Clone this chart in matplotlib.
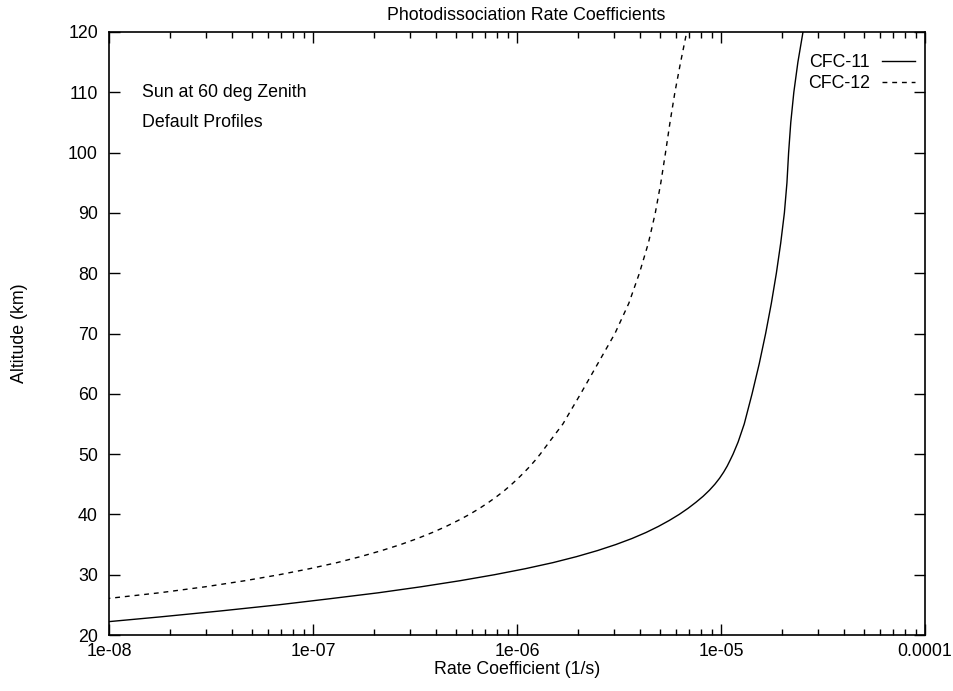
import matplotlib
matplotlib.use("Agg")
import matplotlib.pyplot as plt
from matplotlib.ticker import FixedLocator, FixedFormatter, LogLocator, NullFormatter

plt.rcParams['font.family'] = ['Liberation Sans', 'DejaVu Sans']

altitude = [20, 21, 22, 23, 24, 25, 26, 27, 28, 29, 30, 31, 32, 33, 34, 35, 36, 37, 38, 39,
            40, 41, 42, 43, 44, 45, 46, 47, 48, 49, 50, 52, 55, 60, 65, 70, 75, 80, 85,
            90, 95, 100, 105, 110, 115, 120]
cfc11 = [1.74e-9, 3.9e-9, 8.51e-9, 1.78e-8, 3.55e-8, 6.76e-8, 1.20e-7, 2.09e-7, 3.39e-7,
         5.25e-7, 7.76e-7, 1.10e-6, 1.50e-6, 1.96e-6, 2.48e-6, 3.05e-6, 3.66e-6, 4.29e-6,
         4.93e-6, 5.58e-6, 6.24e-6, 6.89e-6, 7.53e-6, 8.17e-6, 8.77e-6, 9.33e-6, 9.84e-6,
         1.030e-5, 1.072e-5, 1.109e-5, 1.146e-5, 1.213e-5, 1.300e-5, 1.420e-5, 1.540e-5,
         1.655e-5, 1.765e-5, 1.868e-5, 1.962e-5, 2.045e-5, 2.105e-5, 2.145e-5, 2.198e-5,
         2.275e-5, 2.382e-5, 2.523e-5]
cfc12 = [5.0e-11, 1.35e-10, 3.55e-10, 8.9e-10, 2.09e-9, 4.68e-9, 9.55e-9, 1.77e-8, 2.97e-8,
         4.63e-8, 6.84e-8, 9.64e-8, 1.31e-7, 1.71e-7, 2.17e-7, 2.69e-7, 3.25e-7, 3.85e-7,
         4.49e-7, 5.15e-7, 5.85e-7, 6.55e-7, 7.26e-7, 7.98e-7, 8.71e-7, 9.42e-7, 1.014e-6,
         1.086e-6, 1.159e-6, 1.230e-6, 1.300e-6, 1.439e-6, 1.679e-6, 2.051e-6, 2.489e-6,
         3.020e-6, 3.532e-6, 3.981e-6, 4.406e-6, 4.764e-6, 5.070e-6, 5.346e-6, 5.623e-6,
         5.943e-6, 6.339e-6, 6.792e-6]

x_ticks = [1e-8, 1e-7, 1e-6, 1e-5, 1e-4]
x_ticklabels = ["1e-08", "1e-07", "1e-06", "1e-05", "0.0001"]
y_ticks = [20, 30, 40, 50, 60, 70, 80, 90, 100, 110, 120]

FS = 12.8

fig = plt.figure(figsize=(9.54, 6.91), dpi=100)
ax = fig.add_axes([109/954, 1-635/691, (925-109)/954, (635-32)/691])

ax.plot(cfc11, altitude, color='black', lw=1.0, label='CFC-11')
ax.plot(cfc12, altitude, color='black', lw=1.0, linestyle=(0, (3.5, 3.5)), label='CFC-12')

ax.set_xscale('log')
ax.set_xlim(1e-8, 1e-4)
ax.set_ylim(20, 120)
ax.xaxis.set_major_locator(FixedLocator(x_ticks))
ax.xaxis.set_major_formatter(FixedFormatter(x_ticklabels))
ax.xaxis.set_minor_locator(LogLocator(base=10, subs=range(2, 10)))
ax.xaxis.set_minor_formatter(NullFormatter())
ax.yaxis.set_major_locator(FixedLocator(y_ticks))

ax.tick_params(which='both', direction='in', top=True, right=True, labelsize=FS, width=1.0)
ax.tick_params(axis='x', pad=6)
ax.tick_params(axis='y', pad=8)
ax.tick_params(which='major', length=8)
ax.tick_params(which='minor', length=4)
for s in ax.spines.values():
    s.set_linewidth(1.2)

ax.set_xlabel('Rate Coefficient (1/s)', fontsize=FS, va='center')
ax.xaxis.set_label_coords(0.5, -(669-635)/603)
ax.set_ylabel('Altitude (km)', fontsize=FS, va='center')
ax.yaxis.set_label_coords(-(109-20)/816, 0.5)
fig.text(526/954, 1-16/691, 'Photodissociation Rate Coefficients', ha='center', va='center', fontsize=FS)

ax.text(0.040, 0.900, 'Sun at 60 deg Zenith', transform=ax.transAxes, fontsize=FS, va='center')
ax.text(0.040, 0.850, 'Default Profiles', transform=ax.transAxes, fontsize=FS, va='center')

leg = ax.legend(loc='upper right', frameon=False, markerfirst=False, fontsize=FS,
                handlelength=1.85, handletextpad=0.7, labelspacing=0.25,
                borderaxespad=0.0, borderpad=0.0,
                bbox_to_anchor=(1 - 10/816, 1 - 22/603))

fig.savefig('out.png', dpi=100)
